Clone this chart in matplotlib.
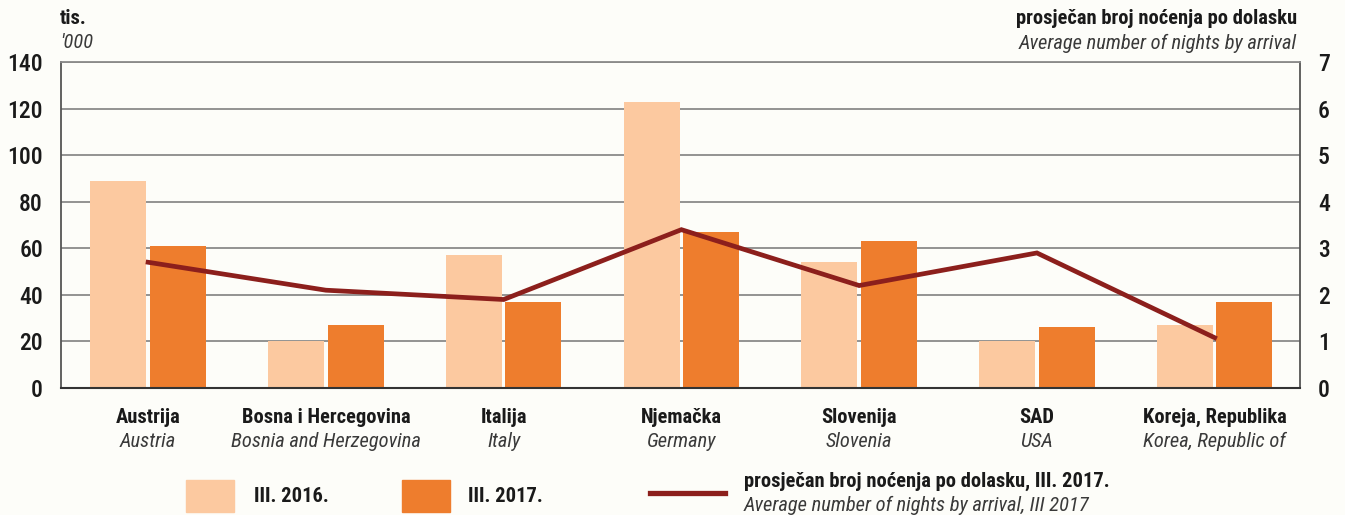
import matplotlib
matplotlib.use("Agg")
import matplotlib.pyplot as plt
from matplotlib import font_manager
import numpy as np
from matplotlib.patches import Rectangle
from matplotlib.lines import Line2D

_avail = set(f.name for f in font_manager.fontManager.ttflist)
FONT = next((n for n in ["Roboto Condensed", "Fira Sans Condensed", "IBM Plex Sans Condensed",
                         "Barlow Semi Condensed", "Liberation Sans"] if n in _avail), "DejaVu Sans")
plt.rcParams['font.family'] = [FONT, 'DejaVu Sans']

categories_hr = ["Austrija", "Bosna i Hercegovina", "Italija", "Njemačka", "Slovenija", "SAD", "Koreja, Republika"]
categories_en = ["Austria", "Bosnia and Herzegovina", "Italy", "Germany", "Slovenia", "USA", "Korea, Republic of"]
arrivals_2016 = [89, 20, 57, 123, 54, 20, 27]
arrivals_2017 = [61, 27, 37, 67, 63, 26, 37]
nights_per_arrival_2017 = [2.7, 2.1, 1.9, 3.4, 2.2, 2.9, 1.08]
left_ticks = [0, 20, 40, 60, 80, 100, 120, 140]
right_ticks = [0, 1, 2, 3, 4, 5, 6, 7]

BG = "#fdfdf9"
LIGHT = "#fcc9a0"
DARK = "#ee7d2d"
LINEC = "#8c1f1c"
GRID = "#8a8a8a"
TXT = "#1a1a1a"
ITXT = "#3a3a3a"
FS = 14.8
TFS = 17

fig = plt.figure(figsize=(13.45, 5.15), dpi=100, facecolor=BG)
ax = fig.add_axes([61/1345, 127/515, (1300-61)/1345, (388-62)/515])
ax.set_facecolor(BG)

x = np.arange(len(categories_hr))
w = 0.315
ax.bar(x - w/2 - 0.01, arrivals_2016, width=w, color=LIGHT, zorder=2)
ax.bar(x + w/2 + 0.01, arrivals_2017, width=w, color=DARK, zorder=2)
ax.set_xlim(-0.49, 6.48)
ax.set_ylim(0, 140)
ax.set_yticks(left_ticks)
ax.set_yticklabels([str(t) for t in left_ticks], fontsize=TFS, color=TXT, fontweight='medium')
ax.yaxis.grid(True, color=GRID, linewidth=1.3, zorder=0)
ax.set_axisbelow(True)
ax.tick_params(axis='y', length=0, pad=13)
ax.set_xticks([])
for s in ["left", "right"]:
    ax.spines[s].set_color("#555555")
    ax.spines[s].set_linewidth(1.3)
ax.spines["top"].set_color(GRID)
ax.spines["top"].set_linewidth(1.3)
ax.spines["bottom"].set_color("#333333")
ax.spines["bottom"].set_linewidth(1.5)

ax2 = ax.twinx()
ax2.plot(x, nights_per_arrival_2017, color=LINEC, linewidth=3.4, zorder=5, solid_joinstyle='miter')
ax2.set_ylim(0, 7)
ax2.set_yticks(right_ticks)
ax2.set_yticklabels([str(t) for t in right_ticks], fontsize=TFS, color=TXT, fontweight='medium')
ax2.tick_params(axis='y', length=0, pad=13)
for s in ax2.spines.values():
    s.set_visible(False)

for i in range(len(categories_hr)):
    ax.text(x[i], -0.06, categories_hr[i], transform=ax.get_xaxis_transform(), ha='center', va='top',
            fontsize=FS, fontweight='bold', color=TXT)
    ax.text(x[i], -0.135, categories_en[i], transform=ax.get_xaxis_transform(), ha='center', va='top',
            fontsize=FS, style='italic', color=ITXT)

def fx(px):
    return px / 1345
def fy(py):
    return 1 - py / 515

# axis titles
fig.text(fx(60), fy(19), "tis.", ha='left', va='center', fontsize=FS, fontweight='bold', color=TXT)
fig.text(fx(60), fy(43), "'000", ha='left', va='center', fontsize=FS, style='italic', color=ITXT)
fig.text(fx(1297), fy(19), "prosječan broj noćenja po dolasku", ha='right', va='center', fontsize=FS,
         fontweight='bold', color=TXT)
fig.text(fx(1297), fy(43), "Average number of nights by arrival", ha='right', va='center', fontsize=FS,
         style='italic', color=ITXT)

# legend
fig.patches.append(Rectangle((fx(186), fy(512)), fx(234) - fx(186), (512-480)/515, transform=fig.transFigure,
                             color=LIGHT, figure=fig))
fig.text(fx(254), fy(496), "III. 2016.", ha='left', va='center', fontsize=FS, fontweight='bold', color=TXT)
fig.patches.append(Rectangle((fx(402), fy(512)), fx(450) - fx(402), (512-480)/515, transform=fig.transFigure,
                             color=DARK, figure=fig))
fig.text(fx(468), fy(496), "III. 2017.", ha='left', va='center', fontsize=FS, fontweight='bold', color=TXT)
fig.lines.append(Line2D([fx(650), fx(725)], [fy(493), fy(493)], transform=fig.transFigure, color=LINEC,
                        linewidth=3.8, figure=fig))
fig.text(fx(744), fy(481), "prosječan broj noćenja po dolasku, III. 2017.", ha='left', va='center', fontsize=FS,
         fontweight='bold', color=TXT)
fig.text(fx(744), fy(505), "Average number of nights by arrival, III 2017", ha='left', va='center', fontsize=FS,
         style='italic', color=ITXT)

fig.savefig("out.png", dpi=100, facecolor=BG)
